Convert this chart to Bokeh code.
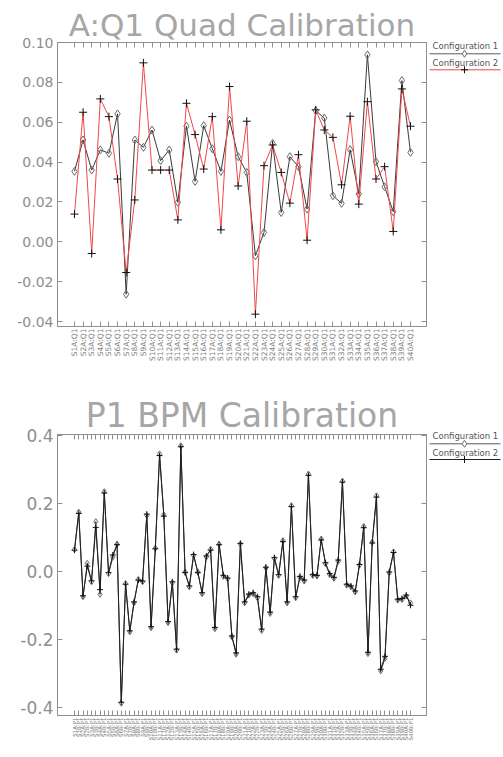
import math
from bokeh.plotting import figure
from bokeh.models import Range1d, FixedTicker, LinearAxis, AllLabels, CustomJSTickFormatter, NumeralTickFormatter
from bokeh.layouts import column, row
from bokeh.embed import file_html
from bokeh.resources import INLINE
from bokeh.core.properties import value

# ---------------- data ----------------
quad_names = [f"S{s}A:Q1" for s in range(1, 41)]
quad_config1 = [0.0353, 0.0511, 0.0360, 0.0461, 0.0444, 0.0642, -0.0263, 0.0511, 0.0474, 0.0561,
                0.0407, 0.0461, 0.0198, 0.0580, 0.0303, 0.0583, 0.0467, 0.0353, 0.0611, 0.0427,
                0.0348, -0.0070, 0.0047, 0.0494, 0.0147, 0.0427, 0.0377, 0.0164, 0.0658, 0.0621,
                0.0231, 0.0193, 0.0462, 0.0240, 0.0938, 0.0402, 0.0276, 0.0151, 0.0809, 0.0449]
quad_config2 = [0.0139, 0.0650, -0.0059, 0.0717, 0.0628, 0.0315, -0.0154, 0.0210, 0.0898, 0.0360,
                0.0360, 0.0360, 0.0110, 0.0695, 0.0538, 0.0365, 0.0628, 0.0060, 0.0779, 0.0280,
                0.0605, -0.0363, 0.0382, 0.0486, 0.0348, 0.0194, 0.0437, 0.0008, 0.0662, 0.0561,
                0.0524, 0.0286, 0.0630, 0.0189, 0.0703, 0.0315, 0.0377, 0.0052, 0.0767, 0.0580]
quad_yticks = [-0.04, -0.02, 0.0, 0.02, 0.04, 0.06, 0.08, 0.10]

bpm_names = [f"S{s}{ab}:P1" for s in range(1, 41) for ab in "AB"]
bpm_config1 = [0.064, 0.174, -0.075, 0.023, -0.031, 0.146, -0.068, 0.234, -0.007, 0.041,
               0.080, -0.388, -0.036, -0.178, -0.093, -0.024, -0.031, 0.164, -0.166, 0.068,
               0.345, 0.166, -0.151, -0.034, -0.232, 0.369, -0.002, -0.046, 0.046, -0.002,
               -0.066, 0.042, 0.065, -0.169, 0.080, -0.015, -0.022, -0.193, -0.244, 0.080,
               -0.093, -0.070, -0.066, -0.078, -0.174, 0.010, -0.124, 0.037, -0.012, 0.090,
               -0.093, 0.193, -0.078, -0.018, -0.029, 0.286, -0.012, -0.014, 0.095, 0.022,
               -0.010, -0.021, 0.029, 0.265, -0.041, -0.046, -0.061, 0.018, 0.132, -0.242,
               0.086, 0.222, -0.293, -0.256, -0.005, 0.057, -0.085, -0.083, -0.073, -0.093]
bpm_config2 = [0.062, 0.170, -0.072, 0.015, -0.028, 0.129, -0.054, 0.230, -0.004, 0.048,
               0.078, -0.385, -0.038, -0.175, -0.090, -0.026, -0.029, 0.168, -0.163, 0.066,
               0.340, 0.162, -0.148, -0.031, -0.229, 0.366, -0.004, -0.043, 0.049, -0.004,
               -0.063, 0.045, 0.062, -0.165, 0.078, -0.012, -0.020, -0.190, -0.240, 0.082,
               -0.090, -0.067, -0.063, -0.075, -0.170, 0.012, -0.120, 0.040, -0.010, 0.087,
               -0.090, 0.190, -0.075, -0.015, -0.026, 0.282, -0.010, -0.012, 0.092, 0.025,
               -0.007, -0.018, 0.033, 0.262, -0.038, -0.043, -0.058, 0.020, 0.128, -0.238,
               0.083, 0.218, -0.288, -0.250, -0.002, 0.055, -0.082, -0.080, -0.070, -0.100]
bpm_yticks = [-0.4, -0.2, 0.0, 0.2, 0.4]

legend_labels = ["Configuration 1", "Configuration 2"]

# ---------------- style ----------------
GRAY = "#8f8f8f"
TXT = "#8e8e8e"
FONT = "DejaVu Sans"
EMPTY = CustomJSTickFormatter(code="return ''")


def silent_axis(ticker):
    return LinearAxis(ticker=ticker, formatter=EMPTY, major_label_text_font_size="0px",
                      major_label_standoff=0)


def make_chart(title, title_size, names, c1, c2, xr, yr, yticks, yfmt, ylab_size,
               xlab_size, height, border_top, border_bottom, c2_color, msize):
    n = len(names)
    xs = list(range(n))
    p = figure(width=428, height=height, x_range=Range1d(*xr), y_range=Range1d(*yr),
               output_backend="svg", toolbar_location=None,
               min_border_left=57, min_border_right=2,
               min_border_top=border_top, min_border_bottom=border_bottom,
               x_axis_type=None, y_axis_type=None)
    p.title.text = title
    p.title.text_font = FONT
    p.title.text_font_size = title_size
    p.title.text_font_style = "normal"
    p.title.text_color = "#a6a6a6"
    p.title.align = "center"
    p.title.standoff = 0
    p.outline_line_color = GRAY
    p.xgrid.visible = False
    p.ygrid.visible = False
    p.background_fill_color = "white"

    xt = FixedTicker(ticks=xs, minor_ticks=[])
    yt = FixedTicker(ticks=yticks, minor_ticks=[])

    xb = LinearAxis(ticker=xt, major_label_overrides={i: nm for i, nm in enumerate(names)},
                    major_label_orientation=math.pi / 2, major_label_policy=AllLabels(),
                    major_label_text_font=FONT, major_label_text_font_size=xlab_size,
                    major_label_text_color="#808080", major_label_standoff=2)
    xa = silent_axis(xt)
    yl = LinearAxis(ticker=yt, formatter=NumeralTickFormatter(format=yfmt),
                    major_label_text_font=FONT, major_label_text_font_size=ylab_size,
                    major_label_text_color=TXT, major_label_standoff=4)
    yr_ax = silent_axis(yt)
    for ax in (xb, xa, yl, yr_ax):
        ax.axis_line_color = GRAY
        ax.major_tick_line_color = GRAY
        ax.major_tick_in = 5
        ax.major_tick_out = 0
        ax.minor_tick_line_color = None
    p.add_layout(xb, "below")
    p.add_layout(xa, "above")
    p.add_layout(yl, "left")
    p.add_layout(yr_ax, "right")

    p.line(xs, c1, line_color="#3a3a3a", line_width=1)
    p.scatter(xs, c1, marker="diamond", size=msize, fill_color=None, line_color="#6a6a6a", line_width=1)
    p.line(xs, c2, line_color=c2_color, line_width=1)
    p.scatter(xs, c2, marker="cross", size=msize, line_color="#111111", line_width=1)
    return p


def make_legend(height, frame_top, frame_bottom, ys, c2_color, msize):
    # ys are positions in pixels from the top of this row
    lg = figure(width=75, height=height, x_range=Range1d(0, 75),
                output_backend="svg", toolbar_location=None, x_axis_type=None, y_axis_type=None,
                title=None, min_border=0, min_border_left=0, min_border_right=0,
                min_border_top=0, min_border_bottom=0)
    try:
        lg.frame_align = False
        lg.y_range = Range1d(height, 0)
    except Exception:
        lg.y_range = Range1d(frame_bottom, frame_top)
    lg.outline_line_color = None
    lg.xgrid.visible = False
    lg.ygrid.visible = False
    t1, l1, t2, l2 = ys
    lg.text(x=[4, 4], y=[t1, t2], text=legend_labels, text_font=value(FONT),
            text_font_size="8.5px", text_color="#555555", text_baseline="middle", text_align="left")
    lg.line([1, 72], [l1, l1], line_color="#5a5a5a", line_width=1)
    lg.scatter([36], [l1], marker="diamond", size=msize, fill_color="white", line_color="#6a6a6a")
    lg.line([1, 72], [l2, l2], line_color=c2_color, line_width=1)
    lg.scatter([36], [l2], marker="cross", size=msize, line_color="#111111")
    return lg


p1 = make_chart("A:Q1 Quad Calibration", "31px", quad_names, quad_config1, quad_config2,
                (-1.97, 40.86), (-0.0425, 0.100), quad_yticks, "0.00", "14px", "7.5px",
                393, 42, 67, "#f04848", 8)
p2 = make_chart("P1 BPM Calibration", "33px", bpm_names, bpm_config1, bpm_config2,
                (-4.0, 82.76), (-0.424, 0.402), bpm_yticks, "0.0", "17px", "5.5px",
                352, 40, 30, "#222222", 6)
lg1 = make_legend(393, 42, 326, (45.5, 53.3, 62.7, 69.3), "#f04848", 7)
lg2 = make_legend(352, 40, 322, (42.5, 50.3, 59, 66), "#222222", 7)

layout = column(row(p1, lg1), row(p2, lg2))
open("out.html", "w").write(file_html(layout, INLINE))
